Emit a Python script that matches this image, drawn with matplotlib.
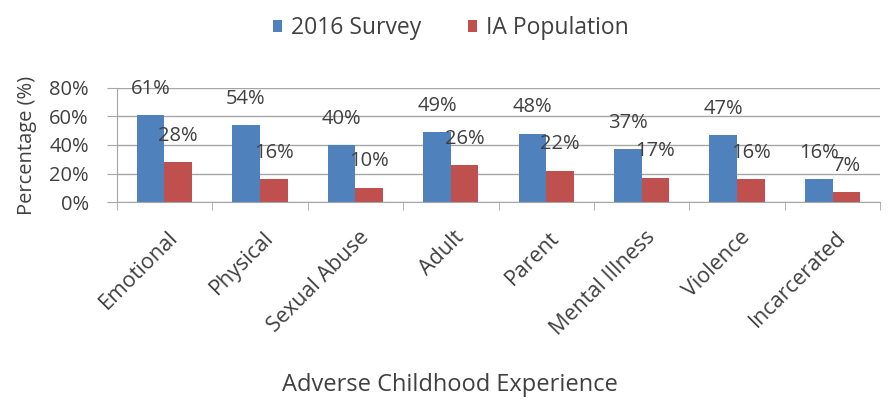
import matplotlib

matplotlib.use("Agg")

import matplotlib.pyplot as plt
import numpy as np
from matplotlib.ticker import FixedLocator, PercentFormatter

categories = ["Emotional", "Physical", "Sexual Abuse", "Adult", "Parent",
              "Mental Illness", "Violence", "Incarcerated"]
survey_2016 = [61, 54, 40, 49, 48, 37, 47, 16]
ia_population = [28, 16, 10, 26, 22, 17, 16, 7]

BLUE = "#4F81BD"
RED = "#C0504D"
TEXT = "#404040"
GRID = "#A6A6A6"

plt.rcParams["font.family"] = ["Open Sans", "DejaVu Sans"]

fig = plt.figure(figsize=(8.91, 4.01), dpi=100)
ax = fig.add_axes([0.131, 0.496, 0.857, 0.285])

x = np.arange(len(categories))
width = 0.29
bars_a = ax.bar(x - width / 2, survey_2016, width, color=BLUE, label="2016 Survey", zorder=2)
bars_b = ax.bar(x + width / 2, ia_population, width, color=RED, label="IA Population", zorder=2)

for bars, values in ((bars_a, survey_2016), (bars_b, ia_population)):
    for bar, v in zip(bars, values):
        ax.annotate(f"{v}%", (bar.get_x() + bar.get_width() / 2, v),
                    xytext=(0, 19), textcoords="offset points",
                    ha="center", va="center", fontsize=14.5, color=TEXT, zorder=3)

ax.set_xlim(-0.5, len(categories) - 0.5)
ax.set_ylim(0, 80)
ax.set_yticks([0, 20, 40, 60, 80])
ax.yaxis.set_major_formatter(PercentFormatter(decimals=0))
ax.yaxis.grid(True, color=GRID, linewidth=1, zorder=0)

ax.set_xticks(x + 0.03)
ax.set_xticklabels(categories, rotation=45, ha="right", rotation_mode="anchor")
ax.xaxis.set_minor_locator(FixedLocator(np.arange(-0.5, len(categories), 1.0)))
ax.tick_params(axis="x", which="major", length=0, pad=18, labelsize=15.5, labelcolor=TEXT)
ax.tick_params(axis="x", which="minor", length=6, color=GRID, direction="out")
ax.tick_params(axis="y", length=7, color=GRID, pad=13, labelsize=14.5, labelcolor=TEXT)

for side in ("top", "right"):
    ax.spines[side].set_visible(False)
for side in ("left", "bottom"):
    ax.spines[side].set_color(GRID)

ax.set_ylabel("Percentage (%)", fontsize=14.5, color=TEXT, labelpad=9)
fig.text(0.505, 0.04, "Adverse Childhood Experience", ha="center", va="center",
         fontsize=17, color=TEXT)

fig.legend(handles=[bars_a, bars_b], loc="center", bbox_to_anchor=(0.506, 0.93),
           ncol=2, frameon=False, fontsize=16.5, handlelength=0.42, handleheight=0.42,
           handletextpad=0.4, columnspacing=2.0, labelcolor=TEXT)

fig.savefig("out.png", dpi=100)
